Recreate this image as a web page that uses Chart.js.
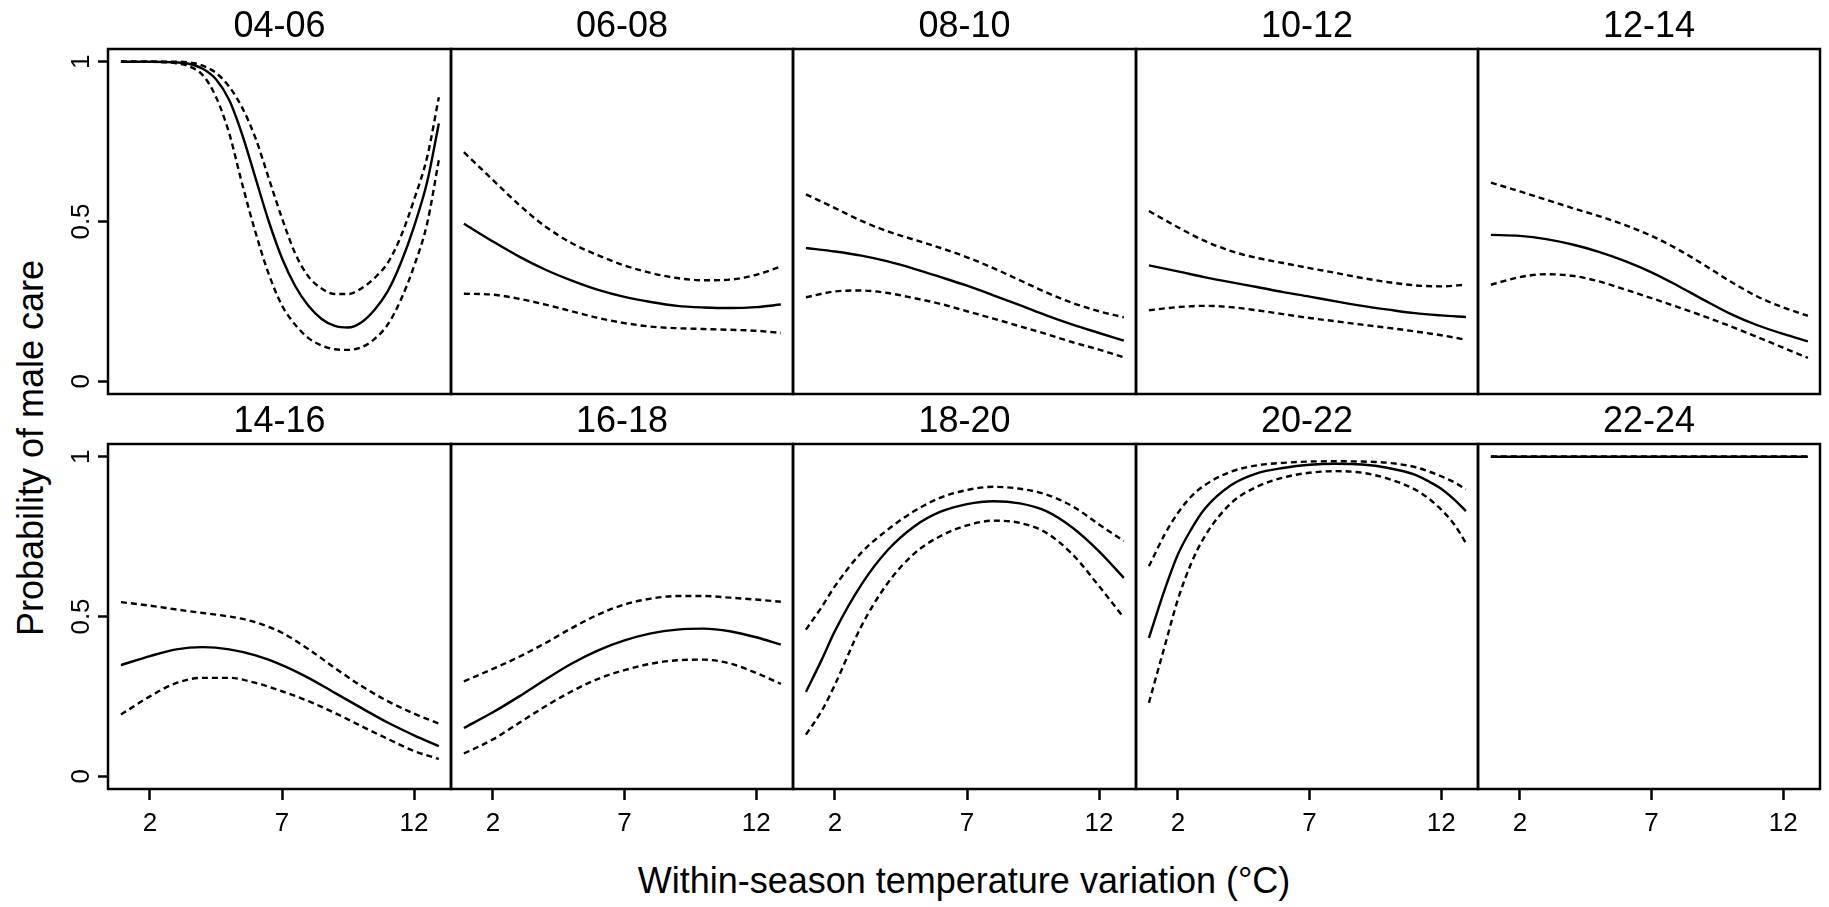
<!DOCTYPE html>
<html>
<head>
<meta charset="utf-8">
<script src="https://cdn.jsdelivr.net/npm/chart.js@4.4.0/dist/chart.umd.min.js"></script>
<style>
html, body { margin: 0; padding: 0; background: #fff; overflow: hidden; width: 1829px; height: 907px; }
.panel { position: absolute; }
.axis-title { position: absolute; font-family: "Liberation Sans", Arial, sans-serif; font-size: 36px; line-height: 1; color: #000; white-space: nowrap; }
#ytitle { left: 31px; top: 448px; transform: translate(-50%, -50%) rotate(-90deg); }
#xtitle { left: 964px; top: 881px; transform: translate(-50%, -50%); }
</style>
</head>
<body>
<div class="axis-title" id="ytitle">Probability of male care</div>
<div class="axis-title" id="xtitle">Within-season temperature variation (°C)</div>
<script>
// panel titles (time of day)
var periods = ['04-06', '06-08', '08-10', '10-12', '12-14', '14-16', '16-18', '18-20', '20-22', '22-24'];
var xTicks = [2, 7, 12];
var yTicks = [0, 0.5, 1];

// x positions where the curves were read
var xStd = [0.9, 2, 3, 4, 5, 6, 7, 8, 9, 10, 11, 12, 12.94];
var xDip = [0.9, 2, 3, 3.5, 4, 4.5, 5, 5.5, 6, 6.5, 7, 7.5, 8, 8.5, 9, 9.5, 10, 10.5, 11, 11.5, 12, 12.5, 12.94];
var xRise = [0.9, 1.5, 2, 3, 4, 5, 6, 7, 8, 9, 10, 11, 12, 12.94];
var xSteep = [0.9, 1.5, 2, 2.5, 3, 4, 5, 6, 7, 8, 9, 10, 11, 11.5, 12, 12.5, 12.94];

// 04-06
var fit0406 = [1.0, 1.0, 0.998, 0.993, 0.978, 0.945, 0.88, 0.77, 0.635, 0.5, 0.385, 0.298, 0.236, 0.195, 0.173, 0.168, 0.184, 0.223, 0.281, 0.37, 0.484, 0.625, 0.807];
var hi0406 = [1.0, 1.0, 1.0, 0.998, 0.988, 0.965, 0.922, 0.855, 0.76, 0.635, 0.51, 0.4, 0.328, 0.29, 0.273, 0.273, 0.29, 0.323, 0.37, 0.453, 0.568, 0.703, 0.889];
var lo0406 = [1.0, 1.0, 0.995, 0.985, 0.958, 0.89, 0.776, 0.615, 0.465, 0.335, 0.237, 0.177, 0.135, 0.112, 0.1, 0.098, 0.106, 0.132, 0.177, 0.255, 0.36, 0.495, 0.693];
// 06-08
var fit0608 = [0.493, 0.4375, 0.39, 0.349, 0.315, 0.286, 0.264, 0.248, 0.236, 0.231, 0.229, 0.232, 0.24];
var hi0608 = [0.717, 0.63, 0.552, 0.484, 0.432, 0.394, 0.3625, 0.339, 0.323, 0.316, 0.318, 0.333, 0.359];
var lo0608 = [0.274, 0.271, 0.258, 0.24, 0.219, 0.198, 0.182, 0.171, 0.166, 0.1635, 0.161, 0.158, 0.151];
// 08-10
var fit0810 = [0.417, 0.406, 0.393, 0.375, 0.352, 0.326, 0.299, 0.269, 0.238, 0.206, 0.177, 0.151, 0.127];
var hi0810 = [0.585, 0.542, 0.502, 0.469, 0.443, 0.417, 0.388, 0.354, 0.316, 0.278, 0.245, 0.219, 0.2];
var lo0810 = [0.263, 0.281, 0.284, 0.276, 0.26, 0.242, 0.219, 0.196, 0.172, 0.148, 0.122, 0.099, 0.075];
// 10-12
var fit1012 = [0.3625, 0.344, 0.326, 0.31, 0.295, 0.279, 0.265, 0.25, 0.236, 0.224, 0.213, 0.206, 0.201];
var hi1012 = [0.533, 0.482, 0.44, 0.408, 0.386, 0.37, 0.354, 0.339, 0.323, 0.31, 0.3, 0.297, 0.302];
var lo1012 = [0.222, 0.232, 0.236, 0.232, 0.222, 0.21, 0.198, 0.1875, 0.177, 0.167, 0.156, 0.144, 0.13];
// 12-14
var fit1214 = [0.458, 0.455, 0.445, 0.428, 0.405, 0.376, 0.341, 0.299, 0.254, 0.211, 0.176, 0.148, 0.125];
var hi1214 = [0.622, 0.594, 0.568, 0.542, 0.517, 0.489, 0.455, 0.413, 0.364, 0.312, 0.266, 0.231, 0.205];
var lo1214 = [0.302, 0.326, 0.335, 0.33, 0.3125, 0.287, 0.26, 0.232, 0.203, 0.172, 0.139, 0.105, 0.073];
// 14-16
var fit1416 = [0.348, 0.376, 0.397, 0.404, 0.397, 0.378, 0.348, 0.308, 0.261, 0.214, 0.168, 0.128, 0.094];
var hi1416 = [0.545, 0.534, 0.522, 0.511, 0.5, 0.482, 0.449, 0.398, 0.339, 0.283, 0.235, 0.196, 0.165];
var lo1416 = [0.193, 0.25, 0.292, 0.308, 0.308, 0.292, 0.266, 0.235, 0.198, 0.157, 0.117, 0.079, 0.054];
// 16-18
var fit1618 = [0.151, 0.2, 0.25, 0.303, 0.353, 0.394, 0.425, 0.447, 0.459, 0.462, 0.454, 0.435, 0.412];
var hi1618 = [0.297, 0.336, 0.374, 0.417, 0.464, 0.506, 0.5375, 0.556, 0.564, 0.564, 0.559, 0.553, 0.546];
var lo1618 = [0.071, 0.115, 0.167, 0.219, 0.266, 0.305, 0.332, 0.352, 0.363, 0.365, 0.353, 0.3235, 0.289];
// 18-20
var fit1820 = [0.264, 0.365, 0.455, 0.6, 0.708, 0.782, 0.828, 0.852, 0.861, 0.854, 0.83, 0.778, 0.704, 0.621];
var hi1820 = [0.459, 0.53, 0.595, 0.7, 0.772, 0.83, 0.872, 0.896, 0.906, 0.9, 0.882, 0.845, 0.788, 0.736];
var lo1820 = [0.13, 0.205, 0.287, 0.47, 0.605, 0.697, 0.752, 0.785, 0.8, 0.793, 0.762, 0.694, 0.595, 0.496];
// 20-22
var fit2022 = [0.433, 0.584, 0.694, 0.772, 0.835, 0.91, 0.948, 0.965, 0.975, 0.978, 0.976, 0.965, 0.944, 0.924, 0.9, 0.866, 0.83];
var hi2022 = [0.657, 0.757, 0.824, 0.875, 0.91, 0.953, 0.973, 0.981, 0.985, 0.986, 0.985, 0.981, 0.968, 0.955, 0.939, 0.92, 0.898];
var lo2022 = [0.23, 0.407, 0.553, 0.665, 0.748, 0.853, 0.906, 0.935, 0.95, 0.955, 0.95, 0.931, 0.898, 0.871, 0.835, 0.788, 0.73];
// 22-24
var fit2224 = [1, 1, 1, 1, 1, 1, 1, 1, 1, 1, 1, 1, 1];
var hi2224 = [1, 1, 1, 1, 1, 1, 1, 1, 1, 1, 1, 1, 1];
var lo2224 = [1, 1, 1, 1, 1, 1, 1, 1, 1, 1, 1, 1, 1];

var panels = [
    { x: xDip, fit: fit0406, hi: hi0406, lo: lo0406 },
    { x: xStd, fit: fit0608, hi: hi0608, lo: lo0608 },
    { x: xStd, fit: fit0810, hi: hi0810, lo: lo0810 },
    { x: xStd, fit: fit1012, hi: hi1012, lo: lo1012 },
    { x: xStd, fit: fit1214, hi: hi1214, lo: lo1214 },
    { x: xStd, fit: fit1416, hi: hi1416, lo: lo1416 },
    { x: xStd, fit: fit1618, hi: hi1618, lo: lo1618 },
    { x: xRise, fit: fit1820, hi: hi1820, lo: lo1820 },
    { x: xSteep, fit: fit2022, hi: hi2022, lo: lo2022 },
    { x: xStd, fit: fit2224, hi: hi2224, lo: lo2224 }
];

// panel grid
var colEdges = [108, 451, 793, 1136, 1478, 1820];
var rowTop = [49, 444];
var rowBottom = [394, 789];
var FONT = '"Liberation Sans", Arial, Helvetica, sans-serif';

// box round each panel
var framePlugin = {
    id: 'frame',
    afterDatasetsDraw: function(chart) {
        var a = chart.chartArea, ctx = chart.ctx;
        ctx.save();
        ctx.strokeStyle = '#000';
        ctx.lineWidth = 2.5;
        ctx.strokeRect(a.left, a.top, a.right - a.left, a.bottom - a.top);
        ctx.restore();
    }
};

function line(xs, ys, dashed) {
    return {
        data: xs.map(function(x, i) { return { x: x, y: ys[i] }; }),
        borderColor: '#000',
        borderWidth: 2.4,
        borderDash: dashed ? [6, 4] : [],
        pointRadius: 0,
        cubicInterpolationMode: 'monotone',
        fill: false
    };
}

panels.forEach(function(p, idx) {
    var r = Math.floor(idx / 5), c = idx % 5;
    var showX = r === 1, showY = c === 0;
    var L = colEdges[c], R = colEdges[c + 1], T = rowTop[r], B = rowBottom[r];
    var left = showY ? 0 : L - 20;
    var top = T - 60;
    var bottom = showX ? B + 70 : B + 20;
    var right = R + 20;

    var div = document.createElement('div');
    div.className = 'panel';
    div.style.left = left + 'px';
    div.style.top = top + 'px';
    div.style.width = (right - left) + 'px';
    div.style.height = (bottom - top) + 'px';
    var cv = document.createElement('canvas');
    div.appendChild(cv);
    document.body.appendChild(div);

    new Chart(cv, {
        type: 'line',
        data: {
            datasets: [line(p.x, p.hi, true), line(p.x, p.lo, true), line(p.x, p.fit, false)]
        },
        options: {
            responsive: true,
            maintainAspectRatio: false,
            animation: false,
            devicePixelRatio: 1,
            events: [],
            layout: {
                padding: { left: showY ? 0 : 20, right: 20, top: 0, bottom: showX ? 0 : 20 }
            },
            plugins: {
                legend: { display: false },
                tooltip: { enabled: false },
                title: {
                    display: true,
                    fullSize: false,
                    text: periods[idx],
                    color: '#000',
                    font: { family: FONT, size: 36, weight: 'normal' },
                    padding: { top: 16.8, bottom: 0 }
                }
            },
            scales: {
                x: {
                    type: 'linear',
                    min: 0.41,
                    max: 13.4,
                    display: showX,
                    afterBuildTicks: function(s) { s.ticks = xTicks.map(function(v) { return { value: v }; }); },
                    afterFit: function(s) { s.height = showX ? 70 : 0; },
                    grid: { drawOnChartArea: false, tickLength: 11, tickWidth: 2.5, tickColor: '#000' },
                    border: { display: false },
                    ticks: {
                        color: '#000',
                        font: { family: FONT, size: 26 },
                        padding: 8,
                        maxRotation: 0,
                        autoSkip: false,
                        callback: function(v) { return String(v); }
                    }
                },
                y: {
                    type: 'linear',
                    min: -0.04,
                    max: 1.04,
                    display: showY,
                    afterBuildTicks: function(s) { s.ticks = yTicks.map(function(v) { return { value: v }; }); },
                    afterFit: function(s) { s.width = showY ? 108 : 0; },
                    grid: { drawOnChartArea: false, tickLength: 10, tickWidth: 2.5, tickColor: '#000' },
                    border: { display: false },
                    ticks: {
                        color: '#000',
                        font: { family: FONT, size: 26 },
                        minRotation: 90,
                        maxRotation: 90,
                        crossAlign: 'center',
                        padding: -2,
                        autoSkip: false,
                        callback: function(v) { return String(v); }
                    }
                }
            }
        },
        plugins: [framePlugin]
    });
});
</script>
</body>
</html>
